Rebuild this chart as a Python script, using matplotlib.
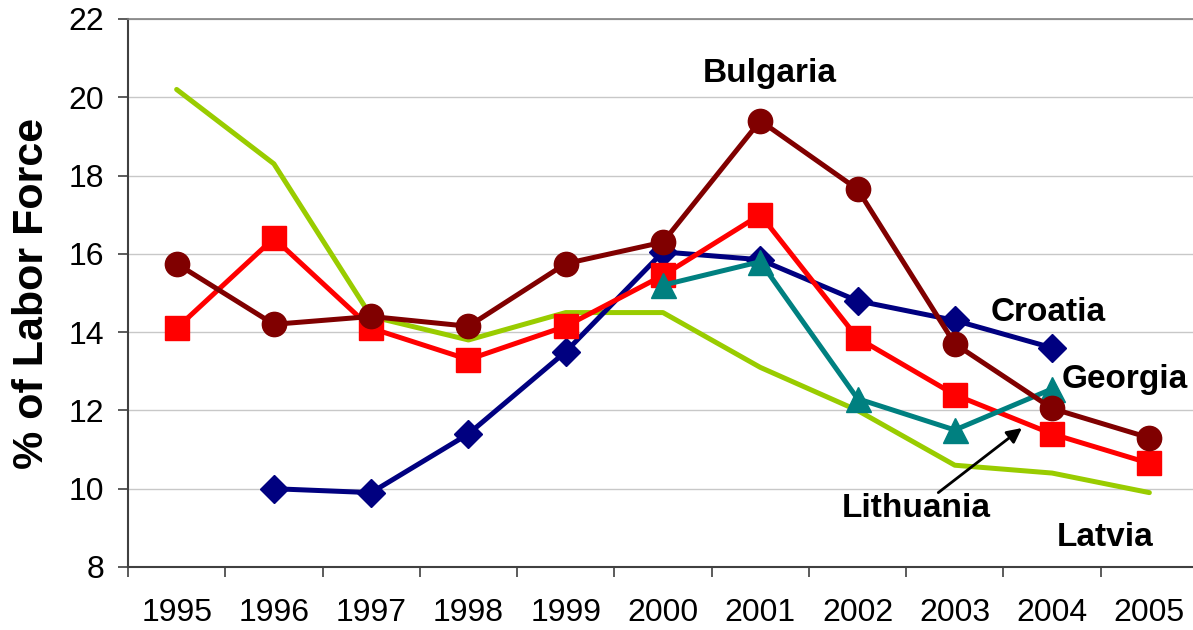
import matplotlib
matplotlib.use("Agg")
import matplotlib.pyplot as plt
from matplotlib.ticker import FixedLocator, NullFormatter

plt.rcParams['font.family'] = ['Liberation Sans', 'DejaVu Sans']

years = ["1995", "1996", "1997", "1998", "1999", "2000",
         "2001", "2002", "2003", "2004", "2005"]

latvia = [20.2, 18.3, 14.4, 13.8, 14.5, 14.5, 13.1, 12.0, 10.6, 10.4, 9.9]
croatia = [None, 10.0, 9.9, 11.4, 13.5, 16.05, 15.85, 14.8, 14.3, 13.6, None]
lithuania = [14.1, 16.4, 14.1, 13.3, 14.15, 15.45, 17.0, 13.85, 12.4, 11.4, 10.65]
georgia = [None, None, None, None, None, 15.2, 15.8, 12.3, 11.5, 12.55, None]
bulgaria = [15.75, 14.2, 14.4, 14.15, 15.75, 16.3, 19.4, 17.65, 13.7, 12.05, 11.3]

y_ticks = [8, 10, 12, 14, 16, 18, 20, 22]


def pts(series):
    xs = [i for i, v in enumerate(series) if v is not None]
    ys = [v for v in series if v is not None]
    return xs, ys


fig = plt.figure(figsize=(11.93, 6.30), dpi=100)
ax = fig.add_axes([128 / 1193, 1 - 567 / 630, 1070 / 1193, (567 - 19) / 630])

lw = 3.6
ax.plot(*pts(latvia), color="#99CC00", lw=lw, zorder=3, solid_joinstyle="round",
        solid_capstyle="round")
ax.plot(*pts(croatia), color="#000080", lw=lw, marker="D", ms=14,
        zorder=4, solid_joinstyle="round")
ax.plot(*pts(lithuania), color="#FF0000", lw=lw, marker="s", ms=17,
        zorder=5, solid_joinstyle="round")
ax.plot(*pts(georgia), color="#008080", lw=lw, marker="^", ms=18,
        zorder=6, solid_joinstyle="round")
ax.plot(*pts(bulgaria), color="#800000", lw=lw, marker="o", ms=17.5,
        zorder=7, solid_joinstyle="round")

ax.set_xlim(-0.5, len(years) - 0.5)
ax.set_ylim(8, 22)

ax.set_yticks(y_ticks)
ax.set_yticklabels([str(t) for t in y_ticks])
ax.grid(axis="y", color="#C8C8C8", lw=1.0, zorder=0)

ax.set_xticks(range(len(years)))
ax.set_xticklabels(years)
ax.xaxis.set_minor_locator(FixedLocator([i - 0.5 for i in range(len(years) + 1)]))
ax.xaxis.set_minor_formatter(NullFormatter())
ax.tick_params(axis="x", which="major", length=0, pad=22, labelsize=23)
ax.tick_params(axis="x", which="minor", length=7, width=1.2, color="#404040")
ax.tick_params(axis="y", length=7, width=1.2, color="#404040", pad=10, labelsize=23)

for side in ("left", "bottom"):
    ax.spines[side].set_color("#404040")
    ax.spines[side].set_linewidth(1.5)
ax.spines["top"].set_color("#808080")
ax.spines["top"].set_linewidth(1.2)
ax.spines["right"].set_visible(False)

ax.set_ylabel("% of Labor Force", fontsize=31, fontweight="bold", labelpad=12)

lab = dict(fontsize=24, fontweight="bold", color="black", ha="center", va="center")
ax.text(6.1, 20.62, "Bulgaria", **lab)
ax.text(8.96, 14.5, "Croatia", **lab)
ax.text(9.75, 12.78, "Georgia", **lab)
ax.text(7.6, 9.5, "Lithuania", **lab)
ax.text(9.55, 8.75, "Latvia", **lab)
ax.annotate("", xy=(8.69, 11.55), xytext=(7.83, 9.9),
            arrowprops=dict(arrowstyle="-|>", color="black", lw=2,
                            mutation_scale=22, shrinkA=0, shrinkB=0))

fig.savefig("out.png", dpi=100)
